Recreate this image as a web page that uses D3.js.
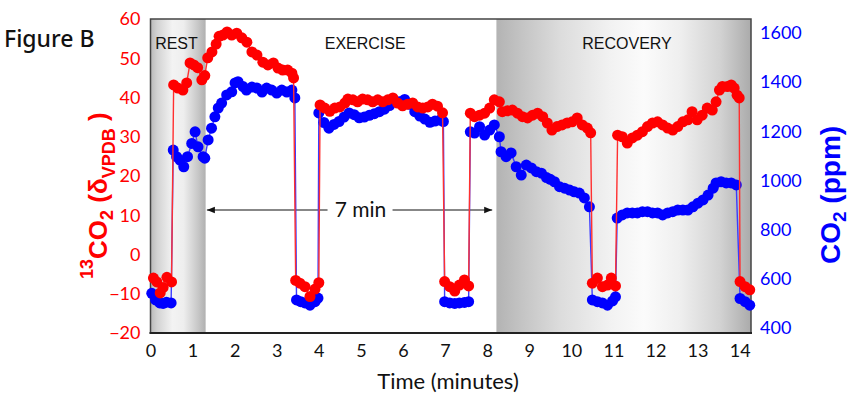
<!DOCTYPE html>
<html>
<head>
<meta charset="utf-8">
<script src="https://cdn.jsdelivr.net/npm/d3@7/dist/d3.min.js"></script>
<style>
  html, body { margin: 0; padding: 0; background: #ffffff; }
  svg { display: block; }
</style>
</head>
<body>
<svg id="chart" width="850" height="396"></svg>
<script>
// ---------------- DATA ----------------
// Tick labels
const xTicks = [0, 1, 2, 3, 4, 5, 6, 7, 8, 9, 10, 11, 12, 13, 14];
const leftTicks = [-20, -10, 0, 10, 20, 30, 40, 50, 60];
const rightTicks = [400, 600, 800, 1000, 1200, 1400, 1600];

// Phases (minutes)
const phaseNames = ["REST", "EXERCISE", "RECOVERY"];
const phaseLabelTime = [0.11, 4.14, 10.26];
const shadedPhases = [[0, 1.31], [8.22, 14.27]];

// Annotation: 7 minute span
const spanStart = 1.34;
const spanEnd = 8.12;
const spanLabel = "7 min";

// 13CO2 (δVPDB), [time (min), value]
const d13C = [
  [0.07,-6],[0.15,-7],[0.23,-9.8],[0.30,-8.4],[0.39,-5.8],[0.50,-7],
  [0.55,43.2],[0.65,42.4],[0.77,41.9],[0.86,43.7],[0.94,48.8],[1.03,48.3],[1.12,47.6],[1.22,44.5],[1.29,45.6],
  [1.36,50.1],[1.46,51.6],[1.56,53.6],[1.63,55.6],[1.72,55.9],[1.82,56.7],[1.93,55.9],[2.05,56.4],[2.17,55.2],
  [2.29,54.1],[2.41,51.6],[2.53,50.8],[2.67,49.0],[2.79,48.3],[2.92,48.8],[3.03,47.5],[3.14,47.0],[3.26,47.0],
  [3.36,46.2],[3.40,45.0],
  [3.45,-6.6],[3.55,-7.3],[3.67,-8.2],[3.79,-10.7],[3.91,-8.8],[4.00,-7.2],
  [4.03,38.1],[4.14,37.3],[4.26,36.5],[4.38,37.3],[4.50,37.6],[4.62,38.6],[4.69,39.6],[4.81,39.4],[4.92,38.9],
  [5.04,39.6],[5.16,39.4],[5.28,38.9],[5.40,39.4],[5.52,38.9],[5.64,39.4],[5.76,39.9],[5.87,38.6],[5.99,37.9],
  [6.11,38.3],[6.23,38.6],[6.35,37.6],[6.47,37.3],[6.59,37.6],[6.70,38.3],[6.82,37.8],[6.94,36.1],
  [6.99,-6.9],[7.11,-8.2],[7.23,-9.3],[7.34,-7.8],[7.46,-6.5],[7.56,-8.0],
  [7.60,36.0],[7.70,35.1],[7.82,35.5],[7.94,36.0],[8.06,37.3],[8.17,39.4],[8.29,38.9],[8.36,36.4],[8.48,36.6],
  [8.60,36.8],[8.72,36.0],[8.84,35.1],[8.96,34.8],[9.08,35.5],[9.20,36.0],[9.32,35.1],[9.43,33.5],[9.54,31.7],
  [9.66,32.6],[9.78,33.0],[9.90,33.5],[10.02,33.8],[10.14,34.8],[10.26,33.0],[10.38,32.2],[10.46,31.0],
  [10.50,-7.3],[10.62,-6],[10.74,-8.2],[10.86,-7.8],[10.95,-6],[11.05,-8.0],
  [11.10,30.4],[11.21,30.0],[11.33,28.4],[11.45,29.7],[11.57,30.4],[11.69,31.3],[11.81,32.6],[11.93,33.5],
  [12.05,33.8],[12.17,33.0],[12.29,32.2],[12.41,31.7],[12.53,32.6],[12.65,33.8],[12.77,34.3],[12.87,36.4],
  [12.99,34.3],[13.11,35.5],[13.23,37.3],[13.35,36.8],[13.44,38.9],[13.52,41.9],[13.59,42.8],[13.71,42.8],
  [13.80,43.2],[13.87,42.4],[13.94,40.6],[13.99,39.9],
  [14.01,-6.9],[14.13,-8.2],[14.24,-9]
];

// CO2 (ppm), [time (min), value]
const co2 = [
  [0.03,541],[0.12,514],[0.22,502],[0.30,500],[0.38,505],[0.49,502],
  [0.54,1124],[0.62,1097],[0.70,1083],[0.79,1056],[0.88,1097],[0.98,1151],[1.06,1198],[1.13,1137],[1.25,1097],
  [1.29,1091],[1.37,1165],[1.45,1213],[1.53,1259],[1.61,1295],[1.69,1315],[1.81,1348],[1.93,1361],[2.01,1397],
  [2.08,1402],[2.20,1382],[2.28,1368],[2.41,1380],[2.53,1376],[2.65,1360],[2.76,1376],[2.88,1368],[3.00,1356],
  [3.12,1368],[3.24,1360],[3.36,1368],[3.43,1336],
  [3.47,514],[3.57,507],[3.67,502],[3.79,493],[3.91,507],[3.98,522],
  [4.00,1275],[4.12,1236],[4.24,1213],[4.36,1228],[4.48,1240],[4.60,1258],[4.72,1275],[4.84,1268],[4.96,1255],
  [5.08,1258],[5.20,1265],[5.32,1272],[5.44,1280],[5.56,1290],[5.68,1305],[5.80,1325],[5.92,1320],[6.04,1330],
  [6.16,1310],[6.28,1280],[6.40,1262],[6.52,1250],[6.64,1237],[6.76,1242],[6.88,1246],[6.96,1240],
  [6.99,507],[7.11,502],[7.23,500],[7.34,502],[7.46,504],[7.56,507],
  [7.60,1198],[7.70,1193],[7.82,1219],[7.94,1185],[8.06,1205],[8.17,1226],[8.29,1178],[8.33,1117],[8.45,1097],
  [8.57,1112],[8.69,1056],[8.81,1022],[8.93,1063],[9.05,1051],[9.17,1036],[9.29,1030],[9.41,1012],[9.50,1005],
  [9.60,995],[9.72,975],[9.84,969],[9.96,961],[10.07,954],[10.19,949],[10.31,929],[10.43,893],
  [10.50,514],[10.62,507],[10.74,502],[10.86,493],[10.98,510],[11.05,527],
  [11.09,847],[11.21,860],[11.33,868],[11.45,868],[11.57,868],[11.69,873],[11.81,873],[11.93,868],[12.05,868],
  [12.17,860],[12.29,868],[12.41,873],[12.53,880],[12.65,880],[12.77,880],[12.89,893],[13.01,908],[13.13,921],
  [13.25,941],[13.37,969],[13.44,990],[13.56,995],[13.68,990],[13.80,990],[13.92,982],
  [14.01,520],[14.13,507],[14.24,493]
];

// ---------------- CHART ----------------
const svg = d3.select("#chart");
const plot = { left: 150.5, right: 751, top: 19, bottom: 333 };

const x = d3.scaleLinear().domain([0, 14.27]).range([plot.left, plot.right]);
const yL = d3.scaleLinear().domain([-20, 60]).range([plot.bottom, plot.top]);
const yR = d3.scaleLinear().domain([379.7, 1657]).range([plot.bottom, plot.top]);

const RED = "#ff0000";
const BLUE = "#0000ff";
const tickFont = "Lato, 'Open Sans', sans-serif";
const titleFont = "'Liberation Sans', Arial, sans-serif";

// gradients
const defs = svg.append("defs");
const gradStops = [
  [[0, "#b9b9b9"], [0.12, "#d2d2d2"], [0.4, "#f3f3f3"], [0.6, "#eeeeee"], [0.85, "#c9c9c9"], [1, "#b0b0b0"]],
  [[0, "#b3b3b3"], [0.1, "#c4c4c4"], [0.25, "#dcdcdc"], [0.45, "#f2f2f2"], [0.58, "#fbfbfb"], [0.72, "#efefef"], [0.88, "#d2d2d2"], [1, "#ababab"]]
];
gradStops.forEach((stops, i) => {
  const g = defs.append("linearGradient").attr("id", "shade" + i)
    .attr("x1", "0").attr("x2", "1").attr("y1", "0").attr("y2", "0");
  stops.forEach(s => g.append("stop").attr("offset", s[0]).attr("stop-color", s[1]));
});

svg.selectAll("rect.shade").data(shadedPhases).enter().append("rect")
  .attr("class", "shade")
  .attr("x", d => x(d[0]))
  .attr("y", plot.top)
  .attr("width", d => x(d[1]) - x(d[0]))
  .attr("height", plot.bottom - plot.top)
  .attr("fill", (d, i) => `url(#shade${i})`);

// frame
svg.append("rect")
  .attr("x", plot.left).attr("y", plot.top)
  .attr("width", plot.right - plot.left).attr("height", plot.bottom - plot.top)
  .attr("fill", "none").attr("stroke", "#444").attr("stroke-width", 1.5);

// phase labels
svg.selectAll("text.phase").data(phaseNames).enter().append("text")
  .attr("class", "phase")
  .attr("x", (d, i) => x(phaseLabelTime[i]))
  .attr("y", 49)
  .attr("font-family", titleFont)
  .attr("font-size", 16)
  .attr("fill", "#111")
  .text(d => d);

// 7 min arrow
defs.append("marker").attr("id", "arrowhead")
  .attr("viewBox", "0 0 10 10").attr("refX", 10).attr("refY", 5)
  .attr("markerWidth", 10).attr("markerHeight", 8).attr("markerUnits", "userSpaceOnUse")
  .attr("orient", "auto")
  .append("path").attr("d", "M0,1 L10,5 L0,9 Z").attr("fill", "#111");

const midT = (spanStart + spanEnd) / 2;
const arrowY = 210;
svg.append("line")
  .attr("x1", x(midT) - 22).attr("x2", x(spanStart))
  .attr("y1", arrowY).attr("y2", arrowY)
  .attr("stroke", "#111").attr("stroke-width", 1.2)
  .attr("marker-end", "url(#arrowhead)");
svg.append("line")
  .attr("x1", x(midT) + 43).attr("x2", x(spanEnd))
  .attr("y1", arrowY).attr("y2", arrowY)
  .attr("stroke", "#111").attr("stroke-width", 1.2)
  .attr("marker-end", "url(#arrowhead)");
svg.append("text")
  .attr("x", x(midT) + 11).attr("y", 217)
  .attr("text-anchor", "middle")
  .attr("font-family", tickFont).attr("font-size", 21).attr("fill", "#111")
  .text(spanLabel);

// series
function drawSeries(data, yScale, color, lineColor) {
  const line = d3.line().x(d => x(d[0])).y(d => yScale(d[1]));
  svg.append("path").datum(data)
    .attr("d", line)
    .attr("fill", "none")
    .attr("stroke", lineColor)
    .attr("stroke-width", 1.4);
  svg.append("g").selectAll("circle").data(data).enter().append("circle")
    .attr("cx", d => x(d[0]))
    .attr("cy", d => yScale(d[1]))
    .attr("r", 5.5)
    .attr("fill", color);
}
drawSeries(co2, yR, BLUE, "#3b3bff");
drawSeries(d13C, yL, RED, "#ff3030");

// axes
const axL = d3.axisLeft(yL).tickValues(leftTicks).tickSize(0).tickPadding(10);
const gL = svg.append("g").attr("transform", `translate(${plot.left},0)`).call(axL);
gL.select(".domain").remove();
gL.selectAll("text").attr("fill", RED).attr("font-size", 18).attr("font-family", tickFont);

const axR = d3.axisRight(yR).tickValues(rightTicks).tickSize(0).tickPadding(9).tickFormat(d3.format("d"));
const gR = svg.append("g").attr("transform", `translate(${plot.right},0)`).call(axR);
gR.select(".domain").remove();
gR.selectAll("text").attr("fill", BLUE).attr("font-size", 18).attr("font-family", tickFont);

const axB = d3.axisBottom(x).tickValues(xTicks).tickSize(0).tickPadding(11).tickFormat(d3.format("d"));
const gB = svg.append("g").attr("transform", `translate(0,${plot.bottom})`).call(axB);
gB.select(".domain").remove();
gB.selectAll("text").attr("fill", "#111").attr("font-size", 18).attr("font-family", tickFont);

svg.append("line")
  .attr("x1", plot.left - 1).attr("x2", plot.right + 1)
  .attr("y1", plot.bottom).attr("y2", plot.bottom)
  .attr("stroke", "#222").attr("stroke-width", 2);

// axis titles
svg.append("text")
  .attr("x", 448).attr("y", 389)
  .attr("text-anchor", "middle")
  .attr("font-family", tickFont).attr("font-size", 22).attr("fill", "#111")
  .text("Time (minutes)");

const lt = svg.append("text")
  .attr("transform", "translate(107,279) rotate(-90)")
  .attr("font-family", titleFont).attr("font-weight", "bold")
  .attr("font-size", 26).attr("fill", RED);
lt.append("tspan").attr("font-size", 18).attr("dy", -14).text("13");
lt.append("tspan").attr("dy", 14).text("CO");
lt.append("tspan").attr("font-size", 18).attr("dy", 6).text("2");
lt.append("tspan").attr("dy", -6).text(" (δ");
lt.append("tspan").attr("font-size", 18).attr("dy", 8).text("VPDB");
lt.append("tspan").attr("dy", -8).text(" )");

const rt = svg.append("text")
  .attr("transform", "translate(840,264) rotate(-90)")
  .attr("font-family", titleFont).attr("font-weight", "bold")
  .attr("font-size", 28).attr("fill", BLUE);
rt.append("tspan").text("CO");
rt.append("tspan").attr("font-size", 19).attr("dy", 6).text("2");
rt.append("tspan").attr("dy", -6).text(" (ppm)");

// figure label
svg.append("text")
  .attr("x", 4).attr("y", 47)
  .attr("font-family", "'Noto Sans', sans-serif").attr("font-weight", 500)
  .attr("font-size", 23).attr("fill", "#111")
  .text("Figure B");
</script>
</body>
</html>
